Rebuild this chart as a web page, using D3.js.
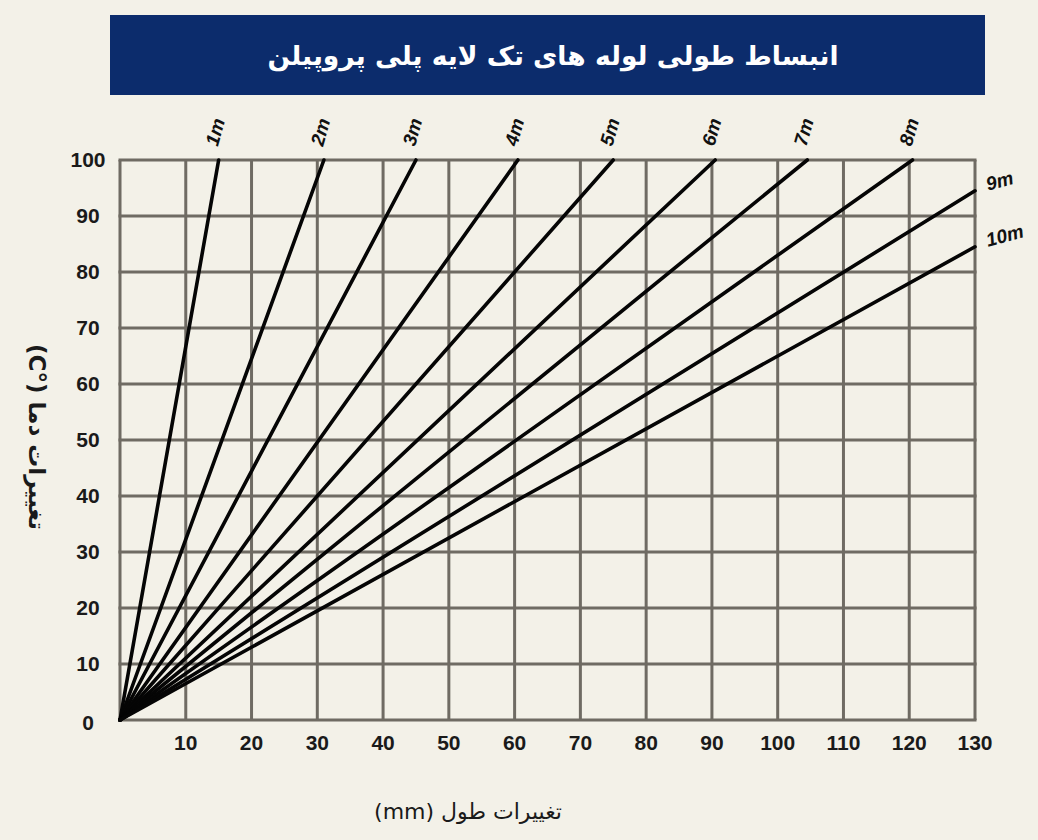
<!DOCTYPE html>
<html>
<head>
<meta charset="utf-8">
<script src="https://cdn.jsdelivr.net/npm/d3@7"></script>
<style>
  html, body { margin: 0; padding: 0; background: #f3f1e8; }
  svg { display: block; }
</style>
</head>
<body>
<svg id="vis_svg" width="1038" height="840"></svg>
<script>
// pipe lengths and the end point of each line (mm, °C)
const pipeLengths = ['1m', '2m', '3m', '4m', '5m', '6m', '7m', '8m', '9m', '10m'];
const endDeltaL = [15, 31, 45, 60.5, 75, 90.5, 104.5, 120.5, 130, 130];
const endDeltaT = [100, 100, 100, 100, 100, 100, 100, 100, 94.5, 84.5];

const xTicks = [10, 20, 30, 40, 50, 60, 70, 80, 90, 100, 110, 120, 130];
const yTicks = [0, 10, 20, 30, 40, 50, 60, 70, 80, 90, 100];

const titleText = 'انبساط طولی لوله های تک لایه پلی پروپیلن';
const xLabel = 'تغییرات طول (mm)';
const yLabel = 'تغییرات دما (°C)';

const svg = d3.select('#vis_svg');
const width = 1038;
const height = 840;

const margin = { top: 160, bottom: 120, left: 120, right: 63 };

const xScale = d3.scaleLinear().domain([0, 130]).range([margin.left, width - margin.right]);
const yScale = d3.scaleLinear().domain([0, 100]).range([height - margin.bottom, margin.top]);

const gridColor = '#6f6b63';

// title banner
svg.append('rect')
  .attr('x', 110).attr('y', 15)
  .attr('width', 875).attr('height', 80)
  .attr('fill', '#0c2c6c');

svg.append('text')
  .attr('x', 553).attr('y', 65)
  .attr('text-anchor', 'middle')
  .attr('direction', 'rtl')
  .style('font-family', '"DejaVu Sans", sans-serif')
  .style('font-weight', 'bold')
  .style('font-size', '26.5px')
  .attr('fill', '#ffffff')
  .text(titleText);

// grid
const g_grid = svg.append('g');
g_grid.selectAll('.vline')
  .data([0].concat(xTicks))
  .enter()
  .append('line')
  .attr('x1', (d) => xScale(d)).attr('x2', (d) => xScale(d))
  .attr('y1', yScale(0)).attr('y2', yScale(100))
  .attr('stroke', gridColor).attr('stroke-width', 3);

g_grid.selectAll('.hline')
  .data(yTicks)
  .enter()
  .append('line')
  .attr('x1', xScale(0) - 1.5).attr('x2', xScale(130) + 1.5)
  .attr('y1', (d) => yScale(d)).attr('y2', (d) => yScale(d))
  .attr('stroke', gridColor).attr('stroke-width', 3);

// tick labels
const tickFont = '"Liberation Sans", Arial, sans-serif';
svg.append('g').selectAll('text')
  .data(xTicks)
  .enter()
  .append('text')
  .attr('x', (d) => xScale(d))
  .attr('y', yScale(0) + 30)
  .attr('text-anchor', 'middle')
  .style('font-family', tickFont)
  .style('font-weight', 'bold')
  .style('font-size', '21px')
  .attr('fill', '#1a1a1a')
  .text((d) => d);

svg.append('g').selectAll('text')
  .data(yTicks)
  .enter()
  .append('text')
  .attr('x', 88)
  .attr('y', (d) => yScale(d) + 7 + (d === 0 ? 3 : 0))
  .attr('text-anchor', 'middle')
  .style('font-family', tickFont)
  .style('font-weight', 'bold')
  .style('font-size', '21px')
  .attr('fill', '#1a1a1a')
  .text((d) => d);

// expansion lines
const lineData = pipeLengths.map((name, i) => ({
  name: name,
  points: [[0, 0], [endDeltaL[i], endDeltaT[i]]],
  top: endDeltaT[i] === 100,
}));

const line = d3.line()
  .x((d) => xScale(d[0]))
  .y((d) => yScale(d[1]));

svg.append('g').selectAll('path')
  .data(lineData)
  .enter()
  .append('path')
  .attr('d', (d) => line(d.points))
  .attr('fill', 'none')
  .attr('stroke', '#050505')
  .attr('stroke-width', 3.6)
  .attr('stroke-linecap', 'round');

// line labels
svg.append('g').selectAll('text')
  .data(lineData)
  .enter()
  .append('text')
  .attr('transform', (d) => {
    const p = d.points[1];
    const x = xScale(p[0]);
    const y = yScale(p[1]);
    return d.top
      ? `translate(${x - 1},${y - 13}) rotate(-74)`
      : `translate(${x + 13},${y}) rotate(-15)`;
  })
  .style('font-family', tickFont)
  .style('font-weight', 'bold')
  .style('font-style', 'italic')
  .style('font-size', '19px')
  .attr('fill', '#111')
  .text((d) => d.name);

// axis titles
svg.append('text')
  .attr('x', 468).attr('y', 819)
  .attr('text-anchor', 'middle')
  .attr('direction', 'rtl')
  .style('font-family', '"DejaVu Sans", sans-serif')
  .style('font-size', '22px')
  .attr('fill', '#1a1a1a')
  .text(xLabel);

svg.append('text')
  .attr('transform', 'translate(29,437) rotate(90)')
  .attr('text-anchor', 'middle')
  .attr('direction', 'rtl')
  .style('font-family', '"DejaVu Sans", sans-serif')
  .style('font-weight', 'bold')
  .style('font-size', '23px')
  .attr('fill', '#1a1a1a')
  .text(yLabel);
</script>
</body>
</html>
